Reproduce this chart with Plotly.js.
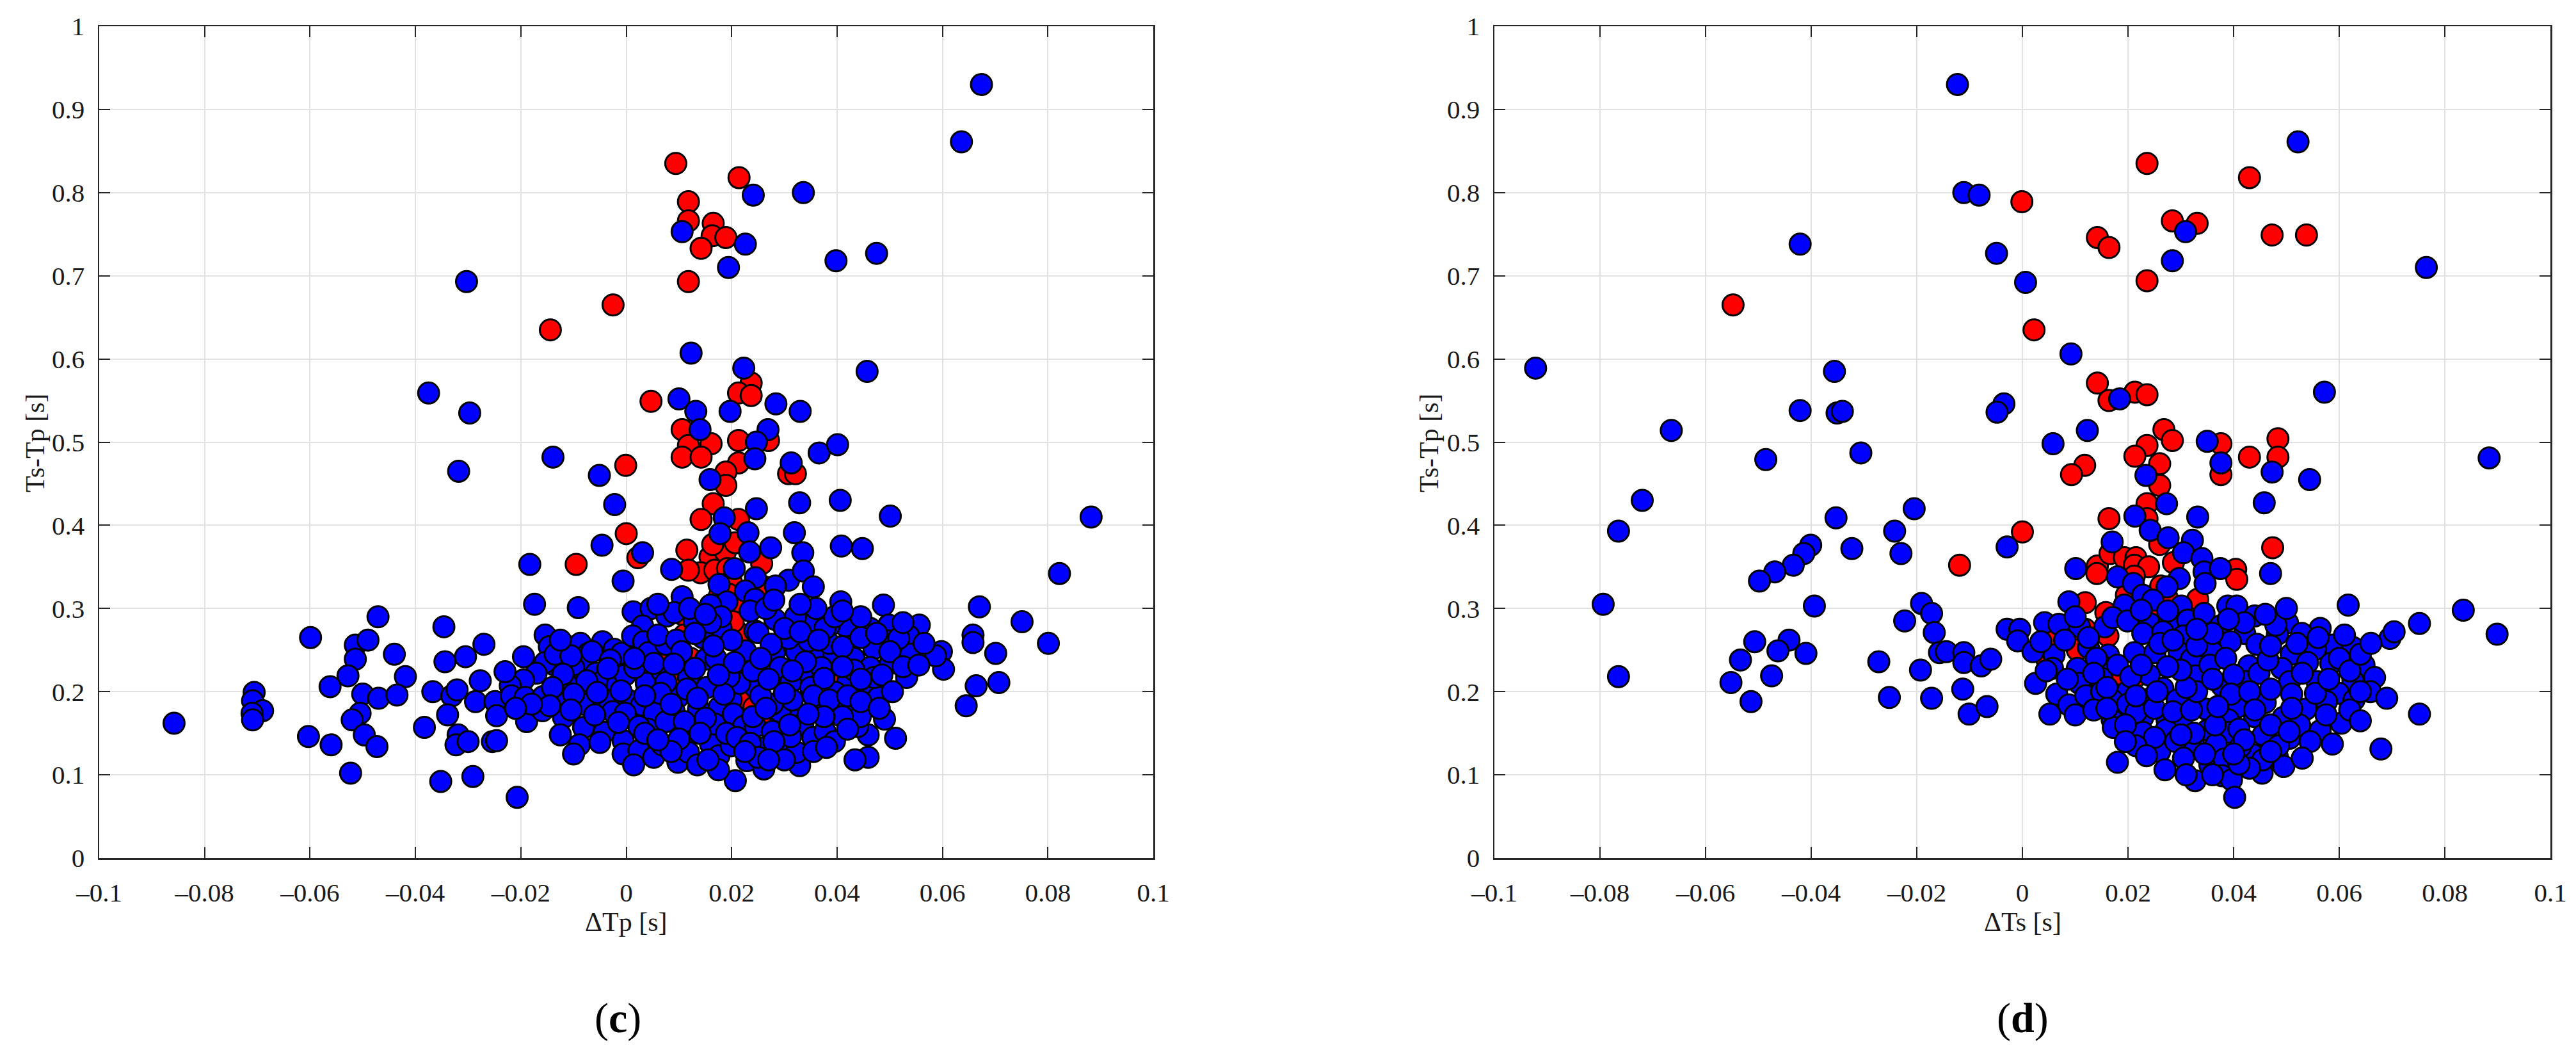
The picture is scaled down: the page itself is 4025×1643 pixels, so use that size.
<!DOCTYPE html>
<html>
<head>
<meta charset="utf-8">
<title>Ts-Tp vs ΔTp / ΔTs</title>
<script src="https://cdn.plot.ly/plotly-3.0.1.min.js"></script>
<style>
    html, body { margin: 0; padding: 0; background: #ffffff; }
    #chart { width: 4025px; height: 1643px; }
</style>
</head>
<body>
<div id="chart"></div>
<script>
// Tick labels shared by both panels
const xTickVals = [-0.1, -0.08, -0.06, -0.04, -0.02, 0, 0.02, 0.04, 0.06, 0.08, 0.1];
const xTickText = ['–0.1', '–0.08', '–0.06', '–0.04', '–0.02', '0', '0.02', '0.04', '0.06', '0.08', '0.1'];
const yTickVals = [0, 0.1, 0.2, 0.3, 0.4, 0.5, 0.6, 0.7, 0.8, 0.9, 1];
const yTickText = ['0', '0.1', '0.2', '0.3', '0.4', '0.5', '0.6', '0.7', '0.8', '0.9', '1'];

// Panel (c): [ΔTp, Ts-Tp]
const tpBlue = [
    [0.0674,0.930],[0.0636,0.861],[0.0241,0.797],[0.0336,0.800],[0.0106,0.753],[0.0226,0.738],[0.0194,0.710],
    [0.0398,0.718],[0.0475,0.727],[-0.0303,0.693],[0.0123,0.607],[0.0223,0.589],[0.0457,0.585],[-0.0297,0.535],
    [-0.0375,0.559],[0.0100,0.552],[0.0132,0.537],[0.0197,0.537],[0.0284,0.546],[0.0330,0.537],[0.0140,0.515],
    [0.0269,0.515],[0.0247,0.500],[-0.0139,0.482],[-0.0318,0.465],[-0.0051,0.460],[0.0244,0.480],[0.0366,0.487],
    [0.0401,0.497],[0.0313,0.475],[0.0159,0.455],[-0.0022,0.425],[0.0247,0.420],[0.0329,0.427],[0.0406,0.430],
    [0.0501,0.411],[0.0882,0.410],[0.0186,0.409],[-0.0046,0.376],[0.0178,0.390],[0.0231,0.391],[0.0319,0.391],
    [0.0408,0.375],[0.0448,0.372],
    [0.0031,0.367],[-0.0183,0.353],[0.0086,0.347],[-0.0006,0.333],[-0.0174,0.305],[-0.0091,0.301],[0.0013,0.296],
    [0.0047,0.300],[0.0077,0.291],[0.0031,0.279],[-0.0471,0.290],[-0.0599,0.265],[-0.0346,0.278],[-0.0514,0.256],
    [-0.0490,0.262],[-0.0514,0.239],[-0.0440,0.245],[-0.0528,0.219],[-0.0419,0.218],[-0.0344,0.236],[-0.0305,0.242],
    [-0.0270,0.257],[-0.0277,0.213],[-0.0154,0.268],[-0.0146,0.254],[-0.0116,0.256],[-0.0087,0.258],[-0.0045,0.260],
    [-0.0023,0.251],[-0.0009,0.246],[0.0012,0.267],[0.0033,0.260],[0.0042,0.247],[-0.0072,0.246],[-0.0136,0.232],
    [-0.0154,0.235],[-0.0171,0.222],[-0.0195,0.214],[-0.0220,0.207],[-0.0084,0.236],[-0.0100,0.229],[-0.0058,0.222],
    [-0.0089,0.208],[-0.0114,0.210],[-0.0044,0.213],[-0.0017,0.208],[-0.0002,0.220],[0.0038,0.210],[0.0068,0.224],
    [0.0016,0.229],[-0.0562,0.206],[-0.0500,0.197],[-0.0470,0.192],[-0.0435,0.196],[-0.0367,0.200],[-0.0331,0.195],
    [-0.0321,0.202],[-0.0286,0.188],[-0.0249,0.188],[-0.0218,0.195],[-0.0192,0.193],[-0.0158,0.194],[-0.0119,0.190],
    [-0.0082,0.185],[-0.0032,0.189],[0.0001,0.191],[0.0029,0.184],[0.0055,0.188],[-0.0026,0.176],[-0.0002,0.174],
    [0.0053,0.174],[-0.0706,0.199],[-0.0709,0.189],[-0.0690,0.177],[-0.0710,0.174],[-0.0709,0.166],[-0.0858,0.162],
    [-0.0505,0.174],[-0.0520,0.166],[-0.0603,0.146],[-0.0560,0.136],[-0.0497,0.148],[-0.0473,0.134],[-0.0383,0.157],
    [-0.0339,0.172],[-0.0319,0.148],[-0.0323,0.136],[-0.0300,0.140],[-0.0254,0.140],[-0.0246,0.141],[-0.0246,0.171],
    [-0.0194,0.174],[-0.0189,0.164],[-0.0159,0.177],[-0.0119,0.169],[-0.0081,0.157],[-0.0125,0.148],[-0.0089,0.136],
    [-0.0042,0.151],[-0.0006,0.141],[-0.0006,0.125],[0.0024,0.129],[0.0014,0.112],[0.0052,0.121],[0.0068,0.136],
    [0.0041,0.155],[0.0024,0.158],[-0.0523,0.102],[-0.0352,0.092],[-0.0291,0.098],[-0.0207,0.073],
    [0.0274,0.373],[0.0234,0.368],[0.0335,0.367],[0.0205,0.348],[0.0245,0.337],[0.0308,0.334],[0.0336,0.345],
    [0.0283,0.327],[0.0355,0.326],[0.0176,0.329],[0.0226,0.321],[0.0106,0.314],[0.0191,0.308],[0.0160,0.304],
    [0.0244,0.311],[0.0407,0.308],[0.0488,0.304],[0.0670,0.302],[0.0751,0.284],[0.0822,0.342],[0.0658,0.268],
    [0.0658,0.259],[0.0701,0.246],[0.0801,0.258],[0.0707,0.211],[0.0664,0.207],[0.0645,0.183],[0.0598,0.248],
    [0.0602,0.227],[0.0587,0.243],[0.0556,0.280],[0.0536,0.267],[0.0540,0.245],[0.0532,0.217],[0.0498,0.280],
    [0.0498,0.261],[0.0490,0.167],[0.0511,0.144],[0.0459,0.148],[0.0439,0.158],[0.0459,0.121],[0.0434,0.118],
    [0.0424,0.264],[0.0416,0.279],[0.0385,0.279],[0.0346,0.282],[0.0321,0.290],[0.0282,0.287],[0.0244,0.273],
    [0.0129,0.284],[0.0091,0.295],[0.0180,0.276],[0.0145,0.265],[0.0151,0.239],[0.0226,0.249],[0.0250,0.271],
    [0.0281,0.246],[0.0323,0.248],[0.0358,0.245],[0.0394,0.245],[0.0432,0.240],[0.0470,0.252],[0.0463,0.229],
    [0.0501,0.234],[0.0420,0.211],[0.0463,0.205],[0.0478,0.193],[0.0397,0.199],[0.0362,0.187],[0.0323,0.173],
    [0.0292,0.161],[0.0335,0.161],[0.0354,0.145],[0.0377,0.152],[0.0292,0.176],[0.0261,0.229],[0.0222,0.220],
    [0.0184,0.229],[0.0118,0.217],[0.0098,0.193],[0.0153,0.205],[0.0277,0.185],[0.0199,0.190],[0.0176,0.181],
    [0.0137,0.179],[0.0091,0.176],[0.0098,0.115],[0.0118,0.127],[0.0122,0.152],[0.0160,0.137],[0.0176,0.123],
    [0.0168,0.161],[0.0203,0.173],[0.0199,0.135],[0.0222,0.158],[0.0207,0.093],[0.0229,0.117],[0.0261,0.107],
    [0.0259,0.132],[0.0245,0.158],[0.0292,0.127],[0.0329,0.111],[0.0323,0.127],[0.0312,0.146],[0.0277,0.152],
    [0.0385,0.258],[0.0346,0.261],[0.0308,0.264],[0.0292,0.229],[0.0335,0.224],[0.0370,0.229],[0.0312,0.211],
    [0.0350,0.205],[0.0245,0.205],[0.0180,0.290],[0.0160,0.283],[0.0463,0.276],[0.0517,0.264],[0.0377,0.276],
    [0.0432,0.226],[0.0470,0.217],[0.0397,0.181],[0.0432,0.177],[0.0444,0.170],
    [0.0075,0.257],[0.0052,0.234],[0.0075,0.211],[0.0075,0.164],
    // packed core, read from the solid blue mass
    [-0.0135,0.245],[-0.0105,0.243],[-0.0065,0.248],[-0.0030,0.238],[-0.0120,0.221],[-0.0075,0.213],[-0.0035,0.228],
    [-0.0140,0.205],[-0.0100,0.197],[-0.0055,0.199],[-0.0010,0.201],[-0.0145,0.183],[-0.0105,0.178],[-0.0060,0.172],
    [-0.0015,0.163],[-0.0050,0.139],[-0.0100,0.125],[-0.0180,0.185],[-0.0210,0.180],[-0.0230,0.224],[-0.0195,0.242],
    [-0.0125,0.262],[0.0015,0.240],[0.0060,0.268],[0.0095,0.262],[0.0105,0.248],[0.0090,0.233],[0.0130,0.228],
    [0.0115,0.203],[0.0135,0.192],[0.0065,0.198],[0.0035,0.195],[0.0085,0.185],[0.0110,0.164],[0.0150,0.168],
    [0.0140,0.150],[0.0100,0.143],[0.0085,0.128],[0.0135,0.112],[0.0175,0.106],[0.0190,0.150],[0.0210,0.145],
    [0.0235,0.138],[0.0250,0.121],[0.0280,0.140],[0.0300,0.118],[0.0310,0.160],[0.0315,0.190],[0.0300,0.198],
    [0.0255,0.195],[0.0240,0.170],[0.0265,0.180],[0.0215,0.210],[0.0195,0.218],[0.0170,0.240],[0.0205,0.235],
    [0.0240,0.225],[0.0270,0.215],[0.0275,0.257],[0.0200,0.262],[0.0165,0.255],[0.0130,0.270],[0.0120,0.300],
    [0.0150,0.293],[0.0235,0.297],[0.0265,0.300],[0.0300,0.276],[0.0330,0.272],[0.0365,0.262],[0.0410,0.254],
    [0.0445,0.265],[0.0475,0.270],[0.0500,0.248],[0.0525,0.230],[0.0485,0.220],[0.0445,0.215],[0.0410,0.230],
    [0.0375,0.216],[0.0340,0.236],[0.0355,0.195],[0.0385,0.190],[0.0420,0.195],[0.0445,0.188],[0.0410,0.170],
    [0.0375,0.170],[0.0345,0.173],[0.0395,0.140],[0.0420,0.155],[0.0480,0.180],[0.0505,0.200],[0.0555,0.232],
    [0.0565,0.258],[0.0525,0.283],[0.0445,0.290],[0.0395,0.290],[0.0360,0.300],[0.0280,0.310],[0.0330,0.305],
    [0.0410,0.297],[0.0060,0.305],[0.0035,0.150],[0.0060,0.142],[0.0155,0.118],[0.0225,0.128],[0.0270,0.118],
    [0.0355,0.128],[0.0380,0.133],[0.0315,0.225],[0.0255,0.240],[0.0185,0.197],[0.0175,0.220]
];
const tpRed = [
    [0.0094,0.835],[0.0214,0.818],[0.0118,0.789],[0.0118,0.766],[0.0165,0.763],[0.0163,0.748],[0.0189,0.746],
    [0.0142,0.733],[0.0118,0.693],[-0.0025,0.665],[-0.0144,0.635],[0.0237,0.571],[0.0213,0.559],[0.0237,0.556],
    [0.0047,0.549],[0.0106,0.515],[0.0213,0.502],[0.0270,0.502],[0.0118,0.496],[0.0161,0.498],[0.0106,0.482],
    [0.0142,0.482],[-0.0001,0.472],[0.0213,0.475],[0.0308,0.462],[0.0321,0.462],[0.0189,0.464],[0.0189,0.448],
    [0.0165,0.426],[0.0142,0.407],[0.0213,0.407],[0.0000,0.390],
    [0.0022,0.361],[-0.0095,0.353],[0.0050,0.219],
    [0.0115,0.370],[0.0159,0.362],[0.0188,0.368],[0.0207,0.379],[0.0164,0.377],[0.0141,0.343],[0.0118,0.346],
    [0.0168,0.346],[0.0192,0.348],[0.0257,0.354],[0.0261,0.326],[0.0199,0.333],[0.0176,0.314],[0.0195,0.317],
    [0.0211,0.299],[0.0106,0.293],[0.0110,0.268],[0.0215,0.270],[0.0203,0.284],[0.0085,0.245],[0.0122,0.240],
    [0.0403,0.221],[0.0092,0.214],[0.0213,0.198],[0.0230,0.187],[0.0242,0.181],[0.0265,0.167]
];

// Panel (d): [ΔTs, Ts-Tp]
const tsBlue = [
    [-0.0123,0.930],[0.0522,0.861],[-0.0111,0.800],[-0.0082,0.797],[0.0309,0.753],[-0.0421,0.738],[-0.0049,0.727],
    [0.0284,0.718],[0.0765,0.710],[0.0006,0.692],[0.0092,0.606],[-0.0922,0.589],[-0.0356,0.585],[0.0572,0.560],
    [0.0184,0.552],[-0.0421,0.538],[-0.0351,0.535],[-0.0341,0.537],[-0.0035,0.546],[-0.0048,0.536],[-0.0665,0.514],
    [0.0123,0.514],[0.0350,0.501],[0.0058,0.498],[-0.0306,0.487],[-0.0486,0.479],[0.0234,0.460],[0.0376,0.475],
    [0.0473,0.464],[0.0544,0.455],[0.0884,0.481],[-0.0720,0.430],[-0.0205,0.420],[-0.0353,0.409],[-0.0765,0.393],
    [-0.0242,0.393],[0.0273,0.426],[0.0458,0.427],[0.0213,0.411],[0.0332,0.410],[0.0242,0.394],
    [-0.0323,0.372],[-0.0230,0.366],[-0.0401,0.376],[-0.0414,0.366],[-0.0434,0.352],[-0.0469,0.344],[-0.0498,0.333],
    [-0.0794,0.305],[-0.0394,0.303],[-0.0191,0.306],[-0.0172,0.294],[-0.0223,0.285],[-0.0167,0.271],[-0.0507,0.260],
    [-0.0442,0.262],[-0.0463,0.249],[-0.0410,0.246],[-0.0534,0.238],[-0.0272,0.236],[-0.0157,0.247],[-0.0765,0.218],
    [-0.0552,0.211],[-0.0475,0.219],[-0.0193,0.226],[-0.0514,0.188],[-0.0252,0.193],[-0.0172,0.192],
    [-0.0029,0.374],[0.0170,0.380],[0.0276,0.385],[0.0322,0.382],[0.0305,0.367],[0.0340,0.360],[0.0101,0.348],
    [0.0180,0.338],[0.0297,0.336],[0.0344,0.344],[0.0346,0.330],[0.0375,0.348],[0.0470,0.342],[0.0274,0.326],
    [0.0210,0.330],[0.0228,0.316],[0.0247,0.310],[0.0088,0.308],[0.0193,0.304],[0.0301,0.303],[0.0617,0.304],
    [0.0835,0.298],[-0.0144,0.248],[-0.0111,0.247],[-0.0111,0.235],[-0.0078,0.231],[-0.0060,0.239],[-0.0113,0.203],
    [-0.0101,0.173],[-0.0067,0.182],[-0.0029,0.275],[-0.0005,0.275],[-0.0009,0.261],[0.0020,0.248],[0.0042,0.283],
    [0.0069,0.281],[0.0108,0.278],[0.0156,0.278],[0.0171,0.289],[0.0199,0.285],[0.0241,0.282],[0.0278,0.283],
    [0.0313,0.286],[0.0344,0.294],[0.0389,0.303],[0.0406,0.303],[0.0440,0.291],[0.0502,0.283],[0.0564,0.276],
    [0.0529,0.270],[0.0483,0.269],[0.0421,0.270],[0.0375,0.279],[0.0228,0.270],[0.0266,0.272],[0.0305,0.267],
    [0.0344,0.260],[0.0394,0.260],[0.0444,0.257],[0.0587,0.256],[0.0626,0.253],[0.0696,0.264],[0.0704,0.272],
    [0.0752,0.282],[0.0899,0.269],[0.0125,0.253],[0.0163,0.244],[0.0212,0.247],[0.0251,0.247],[0.0297,0.247],
    [0.0359,0.248],[0.0509,0.245],[0.0555,0.251],[0.0060,0.244],[0.0057,0.228],[0.0104,0.228],[0.0150,0.231],
    [0.0320,0.239],[0.0429,0.231],[0.0491,0.228],[0.0584,0.234],[0.0647,0.232],[0.0667,0.217],[0.0626,0.213],
    [0.0150,0.216],[0.0108,0.210],[0.0025,0.210],[0.0065,0.197],[0.0200,0.201],[0.0266,0.204],[0.0328,0.219],
    [0.0378,0.207],[0.0425,0.212],[0.0448,0.222],[0.0506,0.212],[0.0558,0.212],[0.0599,0.198],[0.0659,0.200],
    [0.0690,0.192],[0.0628,0.190],[0.0576,0.188],[0.0088,0.184],[0.0052,0.173],[0.0170,0.190],[0.0199,0.185],
    [0.0239,0.191],[0.0293,0.190],[0.0348,0.179],[0.0406,0.181],[0.0460,0.187],[0.0510,0.197],[0.0537,0.179],
    [0.0604,0.162],[0.0752,0.173],[0.0170,0.166],[0.0172,0.157],[0.0228,0.169],[0.0274,0.166],[0.0301,0.163],
    [0.0390,0.166],[0.0440,0.170],[0.0494,0.169],[0.0228,0.151],[0.0272,0.154],[0.0351,0.154],[0.0390,0.151],
    [0.0456,0.148],[0.0506,0.144],[0.0564,0.153],[0.0587,0.137],[0.0679,0.131],[0.0324,0.137],[0.0367,0.137],
    [0.0260,0.128],[0.0180,0.115],[0.0270,0.106],[0.0355,0.112],[0.0382,0.119],[0.0437,0.124],[0.0483,0.121],
    [0.0495,0.110],[0.0454,0.102],[0.0327,0.093],[0.0378,0.099],[0.0396,0.094],[0.0402,0.073],[0.0320,0.131],
    [0.0413,0.134],
    // packed core, read from the solid blue mass
    [0.0080,0.262],[0.0125,0.265],[0.0140,0.240],[0.0180,0.232],[0.0135,0.222],[0.0120,0.195],[0.0150,0.200],
    [0.0100,0.172],[0.0135,0.178],[0.0215,0.175],[0.0195,0.160],[0.0250,0.180],[0.0250,0.145],[0.0215,0.135],
    [0.0290,0.140],[0.0305,0.120],[0.0285,0.176],[0.0320,0.178],[0.0330,0.200],[0.0310,0.205],[0.0300,0.226],
    [0.0275,0.230],[0.0240,0.220],[0.0205,0.218],[0.0225,0.232],[0.0260,0.258],[0.0285,0.262],[0.0330,0.255],
    [0.0355,0.232],[0.0385,0.240],[0.0400,0.220],[0.0360,0.215],[0.0395,0.197],[0.0430,0.200],[0.0470,0.203],
    [0.0465,0.238],[0.0470,0.255],[0.0520,0.258],[0.0540,0.235],[0.0530,0.222],[0.0555,0.198],[0.0580,0.215],
    [0.0600,0.240],[0.0620,0.225],[0.0640,0.245],[0.0660,0.258],[0.0610,0.268],[0.0480,0.280],[0.0460,0.293],
    [0.0420,0.283],[0.0360,0.270],[0.0390,0.287],[0.0330,0.275],[0.0325,0.150],[0.0365,0.160],[0.0410,0.155],
    [0.0420,0.142],[0.0470,0.160],[0.0485,0.135],[0.0525,0.160],[0.0545,0.140],[0.0530,0.120],[0.0455,0.118],
    [0.0430,0.108],[0.0410,0.113],[0.0345,0.125],[0.0300,0.148],[0.0370,0.182],[0.0440,0.178],[0.0510,0.180],
    [0.0575,0.172],[0.0620,0.178],[0.0640,0.200],[0.0560,0.265],[0.0500,0.300],[0.0275,0.297],[0.0225,0.298],
    [0.0255,0.200],[0.0215,0.195],[0.0160,0.205],[0.0085,0.215],[0.0045,0.225],[0.0035,0.260],[0.0100,0.290],
    [0.0360,0.100],[0.0310,0.100],[0.0470,0.128],[0.0400,0.125],[0.0235,0.123],[0.0195,0.140],[0.0160,0.180],
    [0.0640,0.165],[0.0505,0.152]
];
const tsRed = [
    [0.0236,0.835],[0.0430,0.818],[-0.0001,0.789],[0.0284,0.766],[0.0331,0.763],[0.0473,0.749],[0.0538,0.749],
    [0.0142,0.746],[0.0164,0.734],[0.0236,0.694],[-0.0548,0.665],[0.0022,0.635],[0.0142,0.571],[0.0213,0.560],
    [0.0236,0.557],[0.0164,0.550],[0.0268,0.515],[0.0284,0.502],[0.0376,0.498],[0.0484,0.504],[0.0484,0.482],
    [0.0236,0.496],[0.0213,0.483],[0.0118,0.472],[0.0093,0.461],[0.0260,0.474],[0.0376,0.461],[0.0430,0.482],
    [0.0260,0.448],[0.0236,0.426],[0.0236,0.408],[0.0164,0.408],[0.0000,0.392],
    [-0.0119,0.352],[0.0260,0.377],[0.0474,0.373],[0.0142,0.351],[0.0166,0.366],[0.0193,0.361],[0.0215,0.361],
    [0.0212,0.352],[0.0239,0.350],[0.0286,0.355],[0.0141,0.342],[0.0212,0.339],[0.0404,0.347],[0.0406,0.335],
    [0.0262,0.327],[0.0197,0.316],[0.0332,0.311],[0.0119,0.307],[0.0274,0.313],[0.0158,0.295],[0.0220,0.286],
    [0.0243,0.292],[0.0065,0.263],[0.0092,0.267],[0.0119,0.275],[0.0162,0.267],[0.0104,0.250],[0.0046,0.239],
    [0.0190,0.220],[0.0217,0.219],[0.0142,0.197]
];

const FONT = 'Liberation Serif, Times New Roman, serif';
const INK = '#262626';

/**
 * One scatter trace of filled circles with a black rim
 */
function dotTrace(points, color, xa, ya) {
    return {
        x: points.map(p => p[0]),
        y: points.map(p => p[1]),
        xaxis: xa,
        yaxis: ya,
        type: 'scatter',
        mode: 'markers',
        showlegend: false,
        hoverinfo: 'skip',
        marker: { size: 33, color: color, line: { color: '#000000', width: 3 } }
    };
}

/**
 * Boxed axis with inside ticks and a light grid
 */
function makeAxis(domain, range, vals, text, anchor, isX) {
    return {
        domain: domain,
        range: range,
        anchor: anchor,
        tickmode: 'array',
        tickvals: vals,
        ticktext: text,
        ticks: 'inside',
        ticklen: 17,
        tickwidth: 2,
        tickcolor: INK,
        showline: true,
        linecolor: INK,
        linewidth: 2.5,
        mirror: 'ticks',
        showgrid: true,
        gridcolor: '#e2e2e2',
        gridwidth: 2,
        zeroline: false,
        fixedrange: true,
        ticklabelstandoff: isX ? 16 : 12,
        tickfont: { family: FONT, size: 41, color: '#1a1a1a' }
    };
}

// pixel boxes of both panels, as paper fractions
const xDomC = [155 / 4025, 1802 / 4025];
const xDomD = [2335 / 4025, 3985 / 4025];
const yDom = [303 / 1643, 1602 / 1643];

const traces = [
    dotTrace(tpRed, '#ff0000', 'x', 'y'),
    dotTrace(tpBlue, '#0000ff', 'x', 'y'),
    dotTrace(tsRed, '#ff0000', 'x2', 'y2'),
    dotTrace(tsBlue, '#0000ff', 'x2', 'y2')
];

const labelFont = { family: FONT, size: 42, color: '#1a1a1a' };
const panelFont = { family: FONT, size: 66, color: '#000000' };

const layout = {
    width: 4025,
    height: 1643,
    margin: { l: 0, r: 0, t: 0, b: 0 },
    paper_bgcolor: '#ffffff',
    plot_bgcolor: '#ffffff',
    showlegend: false,
    xaxis: makeAxis(xDomC, [-0.1, 0.1], xTickVals, xTickText, 'y', true),
    yaxis: makeAxis(yDom, [0, 1], yTickVals, yTickText, 'x', false),
    xaxis2: makeAxis(xDomD, [-0.1, 0.1], xTickVals, xTickText, 'y2', true),
    yaxis2: makeAxis(yDom, [0, 1], yTickVals, yTickText, 'x2', false),
    annotations: [
        { text: 'ΔTp [s]', x: 978 / 4025, y: (1643 - 1440) / 1643, xref: 'paper', yref: 'paper', showarrow: false, xanchor: 'center', yanchor: 'middle', font: labelFont },
        { text: 'ΔTs [s]', x: 3160 / 4025, y: (1643 - 1440) / 1643, xref: 'paper', yref: 'paper', showarrow: false, xanchor: 'center', yanchor: 'middle', font: labelFont },
        { text: 'Ts-Tp [s]', textangle: -90, x: 55 / 4025, y: (1643 - 692) / 1643, xref: 'paper', yref: 'paper', showarrow: false, xanchor: 'center', yanchor: 'middle', font: labelFont },
        { text: 'Ts-Tp [s]', textangle: -90, x: 2233 / 4025, y: (1643 - 692) / 1643, xref: 'paper', yref: 'paper', showarrow: false, xanchor: 'center', yanchor: 'middle', font: labelFont },
        { text: '(<b>c</b>)', x: 965 / 4025, y: (1643 - 1590) / 1643, xref: 'paper', yref: 'paper', showarrow: false, xanchor: 'center', yanchor: 'middle', font: panelFont },
        { text: '(<b>d</b>)', x: 3160 / 4025, y: (1643 - 1590) / 1643, xref: 'paper', yref: 'paper', showarrow: false, xanchor: 'center', yanchor: 'middle', font: panelFont }
    ]
};

Plotly.newPlot('chart', traces, layout, { staticPlot: true, displayModeBar: false });
</script>
</body>
</html>
